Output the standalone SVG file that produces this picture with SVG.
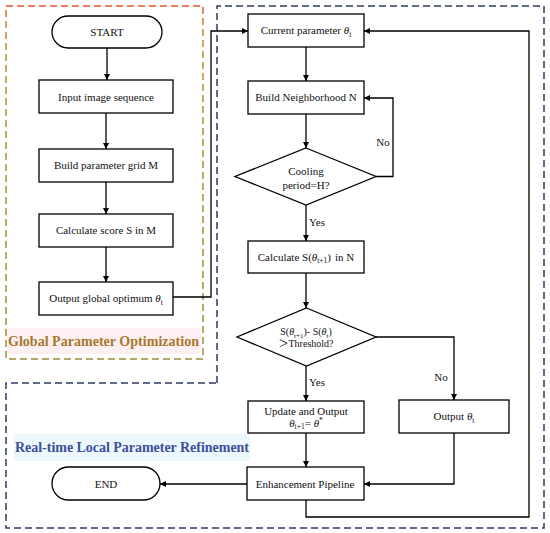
<svg xmlns="http://www.w3.org/2000/svg" width="550" height="533" viewBox="0 0 550 533">
<defs>
<style>
.n{fill:#fff;stroke:#000;stroke-width:1.3}
.c{fill:none;stroke:#000;stroke-width:1.3}
.t{font-family:"Liberation Serif","Noto Sans CJK SC",serif;font-size:11px;fill:#111;text-anchor:middle}
.i{font-style:italic}
.lab{font-family:"Liberation Serif",serif;font-size:14px;font-weight:bold}
</style>
<linearGradient id="og" x1="0" y1="0" x2="0" y2="1">
<stop offset="0" stop-color="#E4532E"/>
<stop offset="0.04" stop-color="#D07A2C"/>
<stop offset="0.12" stop-color="#B98E2C"/>
<stop offset="1" stop-color="#9C8C36"/>
</linearGradient>
<marker id="a" markerUnits="userSpaceOnUse" markerWidth="7" markerHeight="6" refX="6" refY="3" orient="auto">
<path d="M0,0 L6,3 L0,6 z" fill="#000"/>
</marker>
</defs>
<rect width="550" height="533" fill="#fff"/>
<g id="regions">
<rect x="7" y="328" width="194" height="26" fill="#FDF0F3"/>
<rect x="14" y="434" width="236" height="27" fill="#ECF8FB"/>
<rect x="6" y="6" width="197" height="353" fill="none" stroke="url(#og)" stroke-width="1.5" stroke-dasharray="7,4"/>
<path d="M217,383 V6 H544 V528 H6 V383 Z" fill="none" stroke="#2E3A66" stroke-width="1.5" stroke-dasharray="7,4"/>
<text class="lab" x="8" y="346" fill="#A6782C" textLength="191">Global Parameter Optimization</text>
<text class="lab" x="15" y="452" fill="#3D4F9C" textLength="234">Real-time Local Parameter Refinement</text>
</g>
<g id="connectors">
<path class="c" d="M107,48 V80" marker-end="url(#a)"/>
<path class="c" d="M106,113 V149" marker-end="url(#a)"/>
<path class="c" d="M106,182 V214" marker-end="url(#a)"/>
<path class="c" d="M106,247 V282" marker-end="url(#a)"/>
<path class="c" d="M173,297 H211 V31 H248" marker-end="url(#a)"/>
<path class="c" d="M306,47 V81" marker-end="url(#a)"/>
<path class="c" d="M306,114 V148" marker-end="url(#a)"/>
<path class="c" d="M376,176.5 H393 V98 H364" marker-end="url(#a)"/>
<path class="c" d="M306,205 V241" marker-end="url(#a)"/>
<path class="c" d="M306,273 V308" marker-end="url(#a)"/>
<path class="c" d="M376,337 H454 V400" marker-end="url(#a)"/>
<path class="c" d="M306,366 V401" marker-end="url(#a)"/>
<path class="c" d="M306,433 V467" marker-end="url(#a)"/>
<path class="c" d="M454,433 V484 H364" marker-end="url(#a)"/>
<path class="c" d="M247,484 H160" marker-end="url(#a)"/>
<path class="c" d="M306,500 V517 H529 V31 H364" marker-end="url(#a)"/>
<text class="t" x="383" y="146">No</text>
<text class="t" x="309" y="226" style="text-anchor:start">Yes</text>
<text class="t" x="309" y="386" style="text-anchor:start">Yes</text>
<text class="t" x="441" y="381">No</text>
</g>
<g id="start">
<rect class="n" x="52" y="16" width="110" height="32" rx="16"/>
<text class="t" x="107" y="35.5">START</text>
</g>
<g id="input">
<rect class="n" x="39" y="80" width="134" height="33"/>
<text class="t" x="106" y="100.5">Input image sequence</text>
</g>
<g id="grid">
<rect class="n" x="39" y="149" width="134" height="33"/>
<text class="t" x="106" y="169">Build parameter grid M</text>
</g>
<g id="score">
<rect class="n" x="39" y="214" width="134" height="33"/>
<text class="t" x="106" y="234">Calculate score S in M</text>
</g>
<g id="global-out">
<rect class="n" x="39" y="282" width="134" height="33"/>
<text class="t" x="106" y="302">Output global optimum <tspan class="i">θ</tspan><tspan font-size="7.5" dy="2.5">t</tspan></text>
</g>
<g id="current">
<rect class="n" x="248" y="14" width="116" height="33"/>
<text class="t" x="306" y="34">Current parameter <tspan class="i">θ</tspan><tspan font-size="7.5" dy="2.5">t</tspan></text>
</g>
<g id="neighborhood">
<rect class="n" x="248" y="81" width="116" height="33"/>
<text class="t" x="306" y="101">Build Neighborhood N</text>
</g>
<g id="cooling">
<polygon class="n" points="306,148 376,176.5 306,205 235,176.5"/>
<text class="t" x="306" y="174.5">Cooling</text>
<text class="t" x="306" y="188.5">period=H?</text>
</g>
<g id="calc">
<rect class="n" x="248" y="241" width="116" height="32"/>
<text class="t" x="306" y="260.5">Calculate S(<tspan class="i">θ</tspan><tspan font-size="7.5" dy="2.5">t+1</tspan><tspan dy="-2.5">)</tspan><tspan dx="4">in N</tspan></text>
</g>
<g id="threshold">
<polygon class="n" points="306.5,308 376,337 306.5,366 237,337"/>
<text class="t" x="306" y="335" style="font-size:10px">S(<tspan class="i">θ</tspan><tspan font-size="7" dy="2.5">t+1</tspan><tspan dy="-2.5">)- S(</tspan><tspan class="i">θ</tspan><tspan font-size="7" dy="2.5">t</tspan><tspan dy="-2.5">)</tspan></text>
<text class="t" x="306" y="347" style="font-size:10px">＞Threshold?</text>
</g>
<g id="update">
<rect class="n" x="248" y="401" width="116" height="32"/>
<text class="t" x="306" y="414.5">Update and Output</text>
<text class="t" x="306" y="426.5"><tspan class="i">θ</tspan><tspan font-size="7.5" dy="2.5">t+1</tspan><tspan dy="-2.5">= </tspan><tspan class="i">θ</tspan><tspan font-size="7.5" dy="-3.5">*</tspan></text>
</g>
<g id="output-t">
<rect class="n" x="399" y="400" width="110" height="33"/>
<text class="t" x="454" y="420">Output <tspan class="i">θ</tspan><tspan font-size="7.5" dy="2.5">t</tspan></text>
</g>
<g id="pipeline">
<rect class="n" x="247" y="467" width="117" height="33"/>
<text class="t" x="305" y="487.5">Enhancement Pipeline</text>
</g>
<g id="end">
<rect class="n" x="52" y="467" width="108" height="33" rx="16.5"/>
<text class="t" x="106" y="487.5">END</text>
</g>
</svg>
